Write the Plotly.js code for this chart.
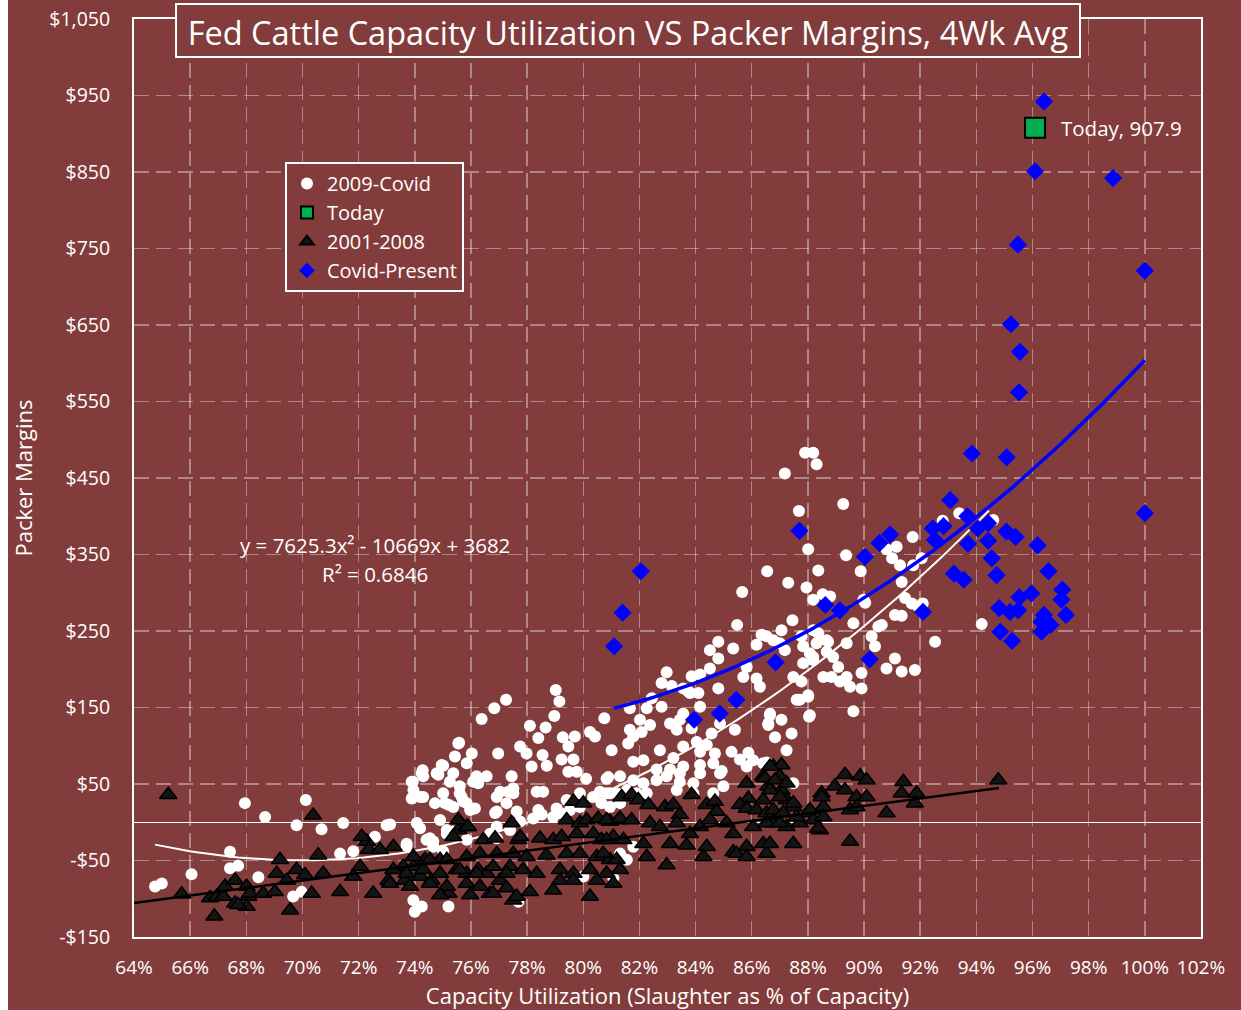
<!DOCTYPE html>
<html>
<head>
<meta charset="utf-8">
<script src="https://cdn.plot.ly/plotly-3.0.1.min.js"></script>
<style>
  html, body { margin: 0; padding: 0; background: #ffffff; }
  #chart { position: absolute; left: 8px; top: 0; width: 1233px; height: 1010px; }
</style>
</head>
<body>
<div id="chart"></div>
<script>
// ---------- Data (x = capacity utilization %, y = packer margin $) ----------
const covid2009X = [64.75,64.99,66.05,67.42,67.42,67.71,67.95,68.43,68.67,69.79,70.12,70.68,69.67,69.97,71.45,71.34,71.81,72.58,73.0,73.12,73.71,73.89,74.25,74.3,74.07,74.78,74.96,75.37,75.55,75.43,76.03,75.85,76.2,76.56,76.97,74.72,75.07,75.37,74.9,75.14,75.6,75.73,75.97,76.14,76.92,77.51,77.45,74.42,74.66,73.95,74.25,74.0,75.2,75.37,75.85,76.92,77.39,77.63,
79.02,79.15,77.25,76.83,76.38,78.97,78.1,78.66,78.4,79.27,79.7,79.47,80.24,80.42,80.75,81.01,75.58,75.01,77.75,77.98,78.55,78.16,78.7,79.23,79.65,79.47,79.77,80.1,80.89,74.28,74.3,74.84,75.25,73.93,73.95,73.89,74.19,75.01,75.2,75.6,75.67,75.85,76.26,76.08,76.92,77.04,77.33,77.51,77.27,76.86,78.34,78.57,78.4,79.05,79.41,79.88,80.35,80.59,80.95,78.93,79.17,79.53,79.88,74.19,74.54,75.14,73.71,74.66,75.01,77.69,80.0,81.07,76.68,76.92,77.75,78.22,78.52,
86.55,87.3,88.37,87.95,88.19,88.53,85.66,85.48,87.45,87.06,87.77,88.19,88.31,88.72,86.35,86.17,86.77,87.18,87.83,88.19,88.9,84.81,84.51,85.34,84.81,84.51,85.82,85.7,86.17,86.29,83.86,84.16,83.56,83.8,84.1,82.97,82.79,83.15,82.79,82.44,84.81,84.16,83.56,83.44,83.86,81.66,82.26,82.02,82.38,82.08,81.66,81.78,81.6,83.09,83.33,84.04,84.4,84.69,84.16,83.56,83.21,82.73,81.78,82.14,83.56,84.16,84.63,84.93,84.16,83.44,83.09,82.61,85.28,85.58,85.88,86.05,85.82,86.53,86.65,87.06,86.59,86.83,87.42,87.24,88.07,88.01,87.71,85.4,84.57,84.87,83.74,84.87,84.99,84.63,83.92,83.33,80.83,81.31,81.78,82.14,80.83,81.19,81.55,81.9,82.26,80.65,80.95,81.31,81.78,81.55,81.31,82.61,82.97,83.44,83.92,
87.9,88.19,88.31,87.18,89.26,87.68,88.01,89.36,89.88,88.79,89.98,90.04,90.8,91.0,91.16,91.28,91.73,91.75,92.05,91.34,91.46,91.7,91.93,92.09,91.1,91.34,90.51,90.63,89.62,89.38,90.27,90.39,91.1,91.34,91.81,90.8,93.39,92.8,94.6,94.19,92.53,86.53,87.0,88.07,88.67,88.37,87.83,88.19,88.67,89.08,89.38,88.55,88.84,89.14,89.5,89.91,89.91,89.62,87.48,87.77,87.6,88.01,88.04,86.65,86.59,86.41,87.48];
const covid2009Y = [-84,-80,-68,-38.5,-60,-57,25,-72,7,-4,29,-9,-97,-91,-1,-41,-38,-19,-4,-3,-31,53,64,33,-1,64,75,64,103,86,90,77,60,60,90,25,25,20,3,-10,38,27,16,18,14,38,60,-23,-32,-102,-110,-117,-110,-12,-23,-21,-10,14,
173,158,160,149,135,139,126,124,110,111,112,99,118,112,136,94,104,74,99,90,88,73,74,82,82,66,66,57,59,68,60,62,53,53,42,31,33,38,23,47,33,25,51,53,33,40,40,44,25,12,40,40,16,18,29,38,33,40,38,7,12,16,20,-8,-21,-15,-28,-25,-38,-104,-71,-73,-15,-6,1,5,10,
328,313,329,307,291,298,301,258,264,251,243,251,234,236,245,232,238,225,230,216,216,236,225,227,214,201,203,190,188,177,191,193,175,169,169,196,182,178,151,162,175,151,142,134,123,149,149,134,127,118,121,112,103,129,121,105,101,90,92,99,84,94,79,81,73,75,77,67,64,64,69,69,92,82,91,81,73,78,140,134,127,111,116,94,140,164,160,121,116,129,171,64,47,38,38,42,57,60,55,51,38,38,42,38,38,25,20,25,-32,-49,-41,55,60,53,51,
483,483,468,456,416,407,357,349,328,295,291,287,357,345,360,336,373,336,345,314,293,286,282,286,271,270,256,258,260,234,243,230,214,197,199,201,404,394,395,259,236,243,234,221,238,247,208,212,223,203,190,190,190,184,177,195,175,145,190,184,160,166,138,142,129,77,51];

const todayX = [96.09];
const todayY = [907.9];

const y2001X = [65.22,65.7,66.71,66.95,67.18,67.24,66.86,67.6,67.6,68.01,68.07,68.01,67.71,68.13,68.6,69.02,69.2,69.08,69.44,69.56,69.79,70.09,70.33,70.38,70.56,70.74,71.34,71.81,72.05,72.29,72.35,72.52,72.76,73.24,73.06,73.59,73.65,73.95,74.19,74.36,74.6,74.9,75.2,75.49,75.85,75.55,75.85,76.26,76.56,76.68,77.03,77.39,77.51,77.45,77.69,72.11,
75.55,75.9,79.65,80.0,79.41,79.88,80.12,80.53,80.95,81.25,75.37,76.44,76.86,77.75,78.46,78.93,79.23,79.77,80.36,80.65,81.07,73.95,74.54,75.14,75.85,76.32,76.92,77.51,77.98,78.69,79.41,79.88,80.48,80.95,73.24,73.71,74.3,74.9,75.6,76.2,76.79,77.27,77.86,78.34,79.17,79.65,80.24,80.83,73.12,73.83,74.54,75.14,75.85,76.32,77.27,77.63,78.1,78.93,79.17,79.65,80.24,80.48,81.07,74.9,75.97,76.79,
86.77,87.06,86.41,87.0,86.59,87.06,85.82,85.88,87.24,83.86,81.37,81.72,81.96,82.32,82.91,83.21,83.44,84.39,84.69,84.75,85.58,85.82,86.17,86.53,87.48,88.01,88.49,88.96,88.55,80.83,81.31,81.72,82.38,82.73,83.33,83.8,84.16,84.51,85.1,85.34,86.05,86.77,87.24,87.71,88.19,80.83,81.43,82.14,83.09,83.68,84.4,85.34,85.82,86.41,87.48,88.43,80.71,81.19,82.26,82.97,84.28,85.46,85.82,86.53,81.31,
86.65,86.47,86.83,87.24,86.65,87.0,87.48,86.41,86.77,87.12,87.6,86.53,87.0,88.07,88.55,88.49,89.32,89.32,89.86,90.09,89.73,90.09,89.5,89.73,88.37,90.8,91.4,91.34,91.87,91.81,94.78,86.65,89.5];
const y2001Y = [36,-94,-99,-97,-97,-84,-123,-76,-106,-84,-97,-110,-108,-93,-93,-91,-49,-67,-76,-115,-62,-69,-93,9,-43,-67,-91,-71,-58,-25,-36,-93,-36,-32,-76,-58,-76,-58,-71,-49,-76,-49,-93,-62,-67,-10,-6,-62,-67,-93,-76,-58,-102,-1,-23,-19,
3,-6,27,25,3,-1,3,5,1,3,-19,-23,-21,-19,-21,-23,-19,-15,-15,-23,-19,-45,-49,-49,-45,-41,-41,-41,-45,-43,-41,-41,-45,-49,-62,-67,-62,-67,-62,-67,-58,-67,-62,-67,-62,-67,-62,-67,-80,-84,-80,-84,-80,-84,-86,-97,-91,-89,-76,-76,-97,-76,-80,-95,-95,-93,
73,75,60,60,47,42,51,31,29,36,33,36,29,23,20,23,10,23,27,14,23,18,16,12,20,12,38,47,20,3,5,3,-1,-6,-1,-15,-6,3,-1,-15,-6,-1,-6,-1,3,-23,-23,-28,-28,-30,-32,-39,-32,-28,-28,-10,-41,-49,-45,-56,-45,-41,-45,-41,-62,
73,58,55,51,42,33,25,29,16,12,7,-1,-1,16,7,33,62,42,60,55,33,33,16,20,-8,12,53,38,38,25,55,-28,-25];

const covidPresentX = [96.41,96.09,98.87,95.48,100.0,95.23,95.55,95.52,93.84,95.08,100.0,93.07,87.7,82.05,81.4,81.1,90.93,90.55,92.45,92.83,92.52,93.68,94.05,94.42,95.07,95.40,96.18,93.7,94.42,94.55,90.03,96.57,93.2,93.55,94.72,97.06,97.03,95.96,95.53,94.81,95.2,95.49,96.41,97.19,96.32,96.64,96.32,94.85,95.27,92.1,88.62,89.14,90.2,86.85,85.45,84.86,83.95];
const covidPresentY = [942,851,842,755,721,651,615,562,482,477,404,421,381,328,274,230,376,365,384,387,369,400,384,391,380,373,362,364,368,345,347,328,325,317,323,304,291,299,294,280,275,277,271,271,262,258,249,249,237,275,284,277,213,209,160,142,134];

// Trendline coefficients [c0, c1, c2] for y = c0 + c1*x + c2*x^2 (x as a fraction)
const fit2009 = [3682, -10669, 7625.3];
const fit2009Range = [64.75, 94.45];
const fit2001 = [-418.1, 488.3, 0];
const fit2001Range = [64.0, 94.8];
const fitCovid = [4576.3, -11839.3, 7867];
const fitCovidRange = [81.1, 100.0];

// Tick labels
const xTickVals = [64,66,68,70,72,74,76,78,80,82,84,86,88,90,92,94,96,98,100,102];
const xTickText = ['64%','66%','68%','70%','72%','74%','76%','78%','80%','82%','84%','86%','88%','90%','92%','94%','96%','98%','100%','102%'];
const yTickVals = [-150,-50,50,150,250,350,450,550,650,750,850,950,1050];
const yTickText = ['-$150','-$50','$50','$150','$250','$350','$450','$550','$650','$750','$850','$950','$1,050'];

// ---------- Build ----------
function trend(coefs, range) {
  const xs = [], ys = [];
  const n = 120;
  for (let i = 0; i <= n; i++) {
    const xp = range[0] + (range[1] - range[0]) * i / n;
    const f = xp / 100;
    xs.push(xp);
    ys.push(coefs[0] + coefs[1] * f + coefs[2] * f * f);
  }
  return {x: xs, y: ys};
}

const BG = '#833C3C';
const FONT = '"Open Sans", "Noto Sans", sans-serif';

const t2009 = trend(fit2009, fit2009Range);
const t2001 = trend(fit2001, fit2001Range);
const tCovid = trend(fitCovid, fitCovidRange);

const traces = [
  {x: covid2009X, y: covid2009Y, type: 'scatter', mode: 'markers', name: '2009-Covid',
   legendrank: 1, legendgroup: 'a',
   marker: {symbol: 'circle', size: 12, color: '#FFFFFF', line: {width: 0}}},
  {x: t2009.x, y: t2009.y, type: 'scatter', mode: 'lines', showlegend: false, hoverinfo: 'skip',
   line: {color: '#FFFFFF', width: 2}},
  {x: y2001X, y: y2001Y, type: 'scatter', mode: 'markers', name: '2001-2008',
   legendrank: 3, legendgroup: 'c',
   marker: {symbol: 'triangle-up', size: 15, color: '#141414', line: {width: 1.5, color: '#000000'}}},
  {x: t2001.x, y: t2001.y, type: 'scatter', mode: 'lines', showlegend: false, hoverinfo: 'skip',
   line: {color: '#000000', width: 2.5}},
  {x: covidPresentX, y: covidPresentY, type: 'scatter', mode: 'markers', name: 'Covid-Present',
   legendrank: 4, legendgroup: 'd',
   marker: {symbol: 'diamond', size: 14, color: '#0000FF', line: {width: 0}}},
  {x: tCovid.x, y: tCovid.y, type: 'scatter', mode: 'lines', showlegend: false, hoverinfo: 'skip',
   line: {color: '#0000FF', width: 3.5}},
  {x: todayX, y: todayY, type: 'scatter', mode: 'markers', name: 'Today',
   legendrank: 2, legendgroup: 'b',
   marker: {symbol: 'square', size: 20, color: '#00B050', line: {width: 2, color: '#000000'}}}
];

const gridColor = 'rgba(255,255,255,0.38)';

const layout = {
  width: 1233, height: 1010,
  paper_bgcolor: BG, plot_bgcolor: BG,
  font: {family: FONT, color: '#FFFFFF', size: 19},
  margin: {l: 126, r: 40, t: 19, b: 73, pad: 0},
  showlegend: true,
  title: {
    text: 'Fed Cattle Capacity Utilization VS Packer Margins, 4Wk Avg',
    font: {family: FONT, size: 32.5, color: '#FFFFFF'},
    x: 0.5028, xanchor: 'center', xref: 'container',
    y: 0.9663, yanchor: 'middle', yref: 'container'
  },
  xaxis: {
    range: [64, 102], autorange: false,
    tickmode: 'array', tickvals: xTickVals, ticktext: xTickText,
    showgrid: true, gridcolor: gridColor, gridwidth: 1.5, griddash: '15px,7px',
    showline: true, linecolor: '#FFFFFF', linewidth: 2, mirror: true,
    zeroline: false, ticks: '', ticklabelstandoff: 12,
    tickfont: {family: FONT, size: 19, color: '#FFFFFF'},
    title: {text: 'Capacity Utilization (Slaughter as % of Capacity)',
            font: {family: FONT, size: 22, color: '#FFFFFF'}, standoff: 10}
  },
  yaxis: {
    range: [-150, 1050], autorange: false,
    tickmode: 'array', tickvals: yTickVals, ticktext: yTickText,
    showgrid: true, gridcolor: gridColor, gridwidth: 1.5, griddash: '15px,7px',
    showline: true, linecolor: '#FFFFFF', linewidth: 2, mirror: true,
    zeroline: true, zerolinecolor: '#FFFFFF', zerolinewidth: 1.5,
    ticks: '', ticklabelstandoff: 18,
    tickfont: {family: FONT, size: 19.5, color: '#FFFFFF'},
    title: {text: 'Packer Margins', font: {family: FONT, size: 22, color: '#FFFFFF'}, standoff: 12}
  },
  legend: {
    x: 0.1415, y: 0.8442, xanchor: 'left', yanchor: 'top',
    bgcolor: BG, bordercolor: '#FFFFFF', borderwidth: 2,
    font: {family: FONT, size: 20, color: '#FFFFFF'},
    traceorder: 'grouped', tracegroupgap: 0, itemsizing: 'constant',
    itemwidth: 30
  },
  shapes: [
    {type: 'rect', xref: 'paper', yref: 'paper', x0: 0.0394, x1: 0.8866, y0: 0.9586, y1: 1.0163,
     fillcolor: BG, line: {color: '#FFFFFF', width: 2}, layer: 'above'}
  ],
  annotations: [
    {x: 72.58, y: 362, xref: 'x', yref: 'y', text: 'y = 7625.3x² - 10669x + 3682', showarrow: false,
     font: {family: FONT, size: 20.5, color: '#FFFFFF'}, xanchor: 'center', yanchor: 'middle'},
    {x: 72.58, y: 324.5, xref: 'x', yref: 'y', text: 'R² = 0.6846', showarrow: false,
     font: {family: FONT, size: 20.5, color: '#FFFFFF'}, xanchor: 'center', yanchor: 'middle'},
    {x: todayX[0], y: todayY[0], xref: 'x', yref: 'y', text: 'Today, ' + todayY[0].toFixed(1), showarrow: false,
     font: {family: FONT, size: 20.5, color: '#FFFFFF'}, xanchor: 'left', yanchor: 'middle', xshift: 24}
  ]
};

Plotly.newPlot('chart', traces, layout, {displayModeBar: false, staticPlot: true});
</script>
</body>
</html>
